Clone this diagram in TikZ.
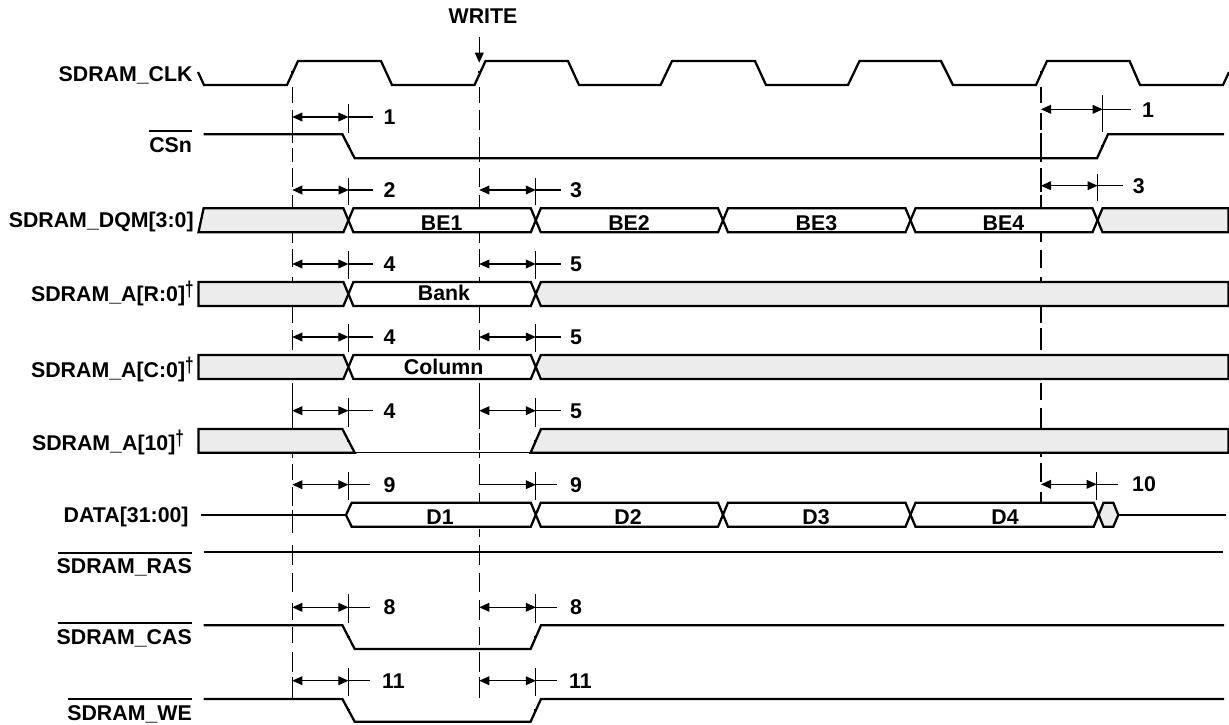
\documentclass[tikz,border=0pt]{standalone}
\usepackage{fontspec}
\usepackage{graphicx}
\setmainfont{Liberation Sans}[BoldFont={Liberation Sans Bold}]
\usetikzlibrary{arrows.meta}
\definecolor{graybg}{HTML}{ECECEC}
\newcommand{\timedim}[7]{%
  % name, x1, x2, y, tick top, tick bottom, ext end
  \draw[thinl,{Triangle[length=7.5pt,width=6.6pt]}-{Triangle[length=7.5pt,width=6.6pt]}] (#2,#4) coordinate (#1a) -- (#3,#4) coordinate (#1b);
  \draw[thinl] (#1b) -- (#7,#4);
  \draw[thinl] (#3,#5) -- (#3,#6);
}
\newcommand{\gridmark}[2]{\draw[thinl] (#1-1.5,#2) -- (#1+1.5,#2);}
% hexagonal bus cell: left crossing, right crossing, top, bottom, fill
\newcommand{\buscell}[5]{\draw[sig,fill=#5] (#1,#3/2+#4/2) -- (#1+5,#3) -- (#2-5,#3) -- (#2,#3/2+#4/2) -- (#2-5,#4) -- (#1+5,#4) -- cycle;}
\newcommand{\siglab}[4]{\node[lab] (#1) at (#2,#3) {#4};}
\newcommand{\mydagger}{\raisebox{3.6pt}{\scalebox{0.72}[1]{†}}}
\tikzset{
  sig/.style={line width=1.7pt,line join=miter,line cap=butt,draw=black},
  thinl/.style={line width=0.8pt,draw=black},
  grayf/.style={fill=graybg},
  txt/.style={font=\fontsize{16pt}{18pt}\selectfont\bfseries,inner sep=0pt,outer sep=0pt,text=black},
  lab/.style={txt,anchor=base east},
  mid/.style={txt,anchor=base},
  num/.style={txt,anchor=base},
  over/.style={line width=1.7pt,draw=black},
}
\begin{document}
\begin{tikzpicture}[x=0.75pt,y=-0.75pt]
\useasboundingbox (0,0) rectangle (1229,725);
% dashed reference lines, piece by piece
\foreach \a/\b in {87/103,110/143,148/162,168/187,195/208,233/243,249/267,277/282,306/323,330/350,383/400,400/429,453/458,464/480,487/506,510/533,545/565,573/592,603/620,627/643,652/672,677/699}
  \draw[thinl] (292.3,\a) -- (292.3,\b);
\foreach \a/\b in {87/103,110/130,137/162,168/187,195/208,233/243,249/267,277/282,306/323,330/350,383/400,400/429,433/450,452/458,493/502,529/537,545/565,573/592,600/620,627/645,652/672,677/698}
  \draw[thinl] (479.3,\a) -- (479.3,\b);
\foreach \a/\b in {87/103,113/130,133/162,168/192,195/208,233/242,250/268,277/282,307/323,328/350,383/400,408/428,453/457,463/482,492/502}
  \draw[thinl] (1041,\a) -- (1041,\b);
% clock
\draw[sig] (198,72) -- (204,85) -- (287,85) -- (298,61) -- (381,61) -- (392,85) -- (474.5,85) -- (485.5,61) -- (568,61) -- (579,85) -- (660.6,85) -- (672,61) -- (755,61) -- (766,85) -- (848,85) -- (859.5,61) -- (941,61) -- (953,85) -- (1036,85) -- (1047,61) -- (1129.6,61) -- (1140,85) -- (1223,85) -- (1229,72);
% CSn
\draw[sig] (203.6,134.3) -- (342.4,134.3) -- (354.7,158.3) -- (1097,158.3) -- (1108,134.3) -- (1224,134.3);
% DQM
\draw[sig,grayf] (198.5,232.3) -- (203.6,208.3) -- (343.4,208.3) -- (348.4,220.3) -- (343.4,232.3) -- cycle;
\buscell{348.4}{535.8}{208.3}{232.3}{white}
\buscell{535.8}{723}{208.3}{232.3}{white}
\buscell{723}{910.5}{208.3}{232.3}{white}
\buscell{910.5}{1097.5}{208.3}{232.3}{white}
\draw[sig,grayf] (1097.5,220.3) -- (1102.5,208.3) -- (1228.5,208.3) -- (1228.5,232.3) -- (1102.5,232.3) -- cycle;
% A[R:0]
\draw[sig,grayf] (198.5,282) -- (343.4,282) -- (348.4,294) -- (343.4,306) -- (198.5,306) -- cycle;
\buscell{348.4}{535.8}{282}{306}{white}
\draw[sig,grayf] (535.8,294) -- (540.8,282) -- (1228.5,282) -- (1228.5,306) -- (540.8,306) -- cycle;
% A[C:0]
\draw[sig,grayf] (198.5,355) -- (343.4,355) -- (348.4,367) -- (343.4,379) -- (198.5,379) -- cycle;
\buscell{348.4}{535.8}{355}{379}{white}
\draw[sig,grayf] (535.8,367) -- (540.8,355) -- (1228.5,355) -- (1228.5,379) -- (540.8,379) -- cycle;
% A[10]
\draw[line width=1pt] (354.7,452.7) -- (530.6,452.7);
\draw[sig,grayf] (198.5,429) -- (342.4,429) -- (354.7,452.7) -- (198.5,452.7) -- cycle;
\draw[sig,grayf] (530.6,452.7) -- (541,429) -- (1228.5,429) -- (1228.5,452.7) -- cycle;
% DATA
\draw[sig] (200.9,515) -- (346,515);
\draw[sig,fill=white] (346,515) -- (351.7,502.7) -- (530.8,502.7) -- (535.8,514.7) -- (530.8,526.7) -- (351.7,526.7) -- cycle;
\buscell{535.8}{723}{502.7}{526.7}{white}
\buscell{723}{910.5}{502.7}{526.7}{white}
\buscell{910.5}{1098.7}{502.7}{526.7}{white}
\draw[sig,grayf] (1098.7,514.7) -- (1103.5,502.7) -- (1113.3,502.7) -- (1118.3,515) -- (1113.3,526.7) -- (1103.5,526.7) -- cycle;
\draw[sig] (1118.3,515) -- (1225.7,515);
% RAS CAS WE
\draw[sig] (203.6,552) -- (1223,552);
\draw[sig] (203.6,625.3) -- (342.4,625.3) -- (354.7,649) -- (530.6,649) -- (541,625.3) -- (1224,625.3);
\draw[sig] (203.6,699) -- (342.4,699) -- (354.7,721.7) -- (530.6,721.7) -- (541,699) -- (1224,699);
% mid-edge marks
\gridmark{292.3}{72}\gridmark{479.3}{72}\gridmark{1041}{72}
\gridmark{348.4}{146}\gridmark{1102.7}{146}
\gridmark{348.4}{441}\gridmark{535.8}{441}
\gridmark{348.4}{637}\gridmark{535.8}{637}
\gridmark{348.4}{710}\gridmark{535.8}{710}
% WRITE arrow
\node[mid] (write) at (483,23.3) {WRITE};
\coordinate (wa) at (479.3,37);
\coordinate (wb) at (479.3,62.7);
\draw[thinl,-{Triangle[length=7.5pt,width=6.6pt]}] (wa) -- (wb);
% dimensions
\timedim{d1}{292.3}{348.4}{117}{104}{132.7}{373}
\timedim{d2}{1041}{1102.7}{109.3}{94.7}{131.7}{1131}
\timedim{d3}{292.3}{348.7}{190}{178}{205}{373}
\timedim{d4}{479.3}{535.8}{190}{178}{205}{560.7}
\timedim{d5}{1041}{1097.5}{185.7}{174}{201}{1122.5}
\timedim{d6}{292.3}{348.4}{264}{250.7}{279.3}{373}
\timedim{d7}{479.3}{535.8}{264}{250.7}{279.3}{560.7}
\timedim{d8}{292.3}{348.4}{337}{324}{352}{373}
\timedim{d9}{479.3}{535.8}{337}{324}{352}{560.7}
\timedim{d10}{292.3}{348.4}{410.7}{398}{426.7}{373}
\timedim{d11}{479.3}{535.8}{410.7}{398}{426.7}{560.7}
\timedim{d12}{292.3}{348.4}{484.7}{471.7}{500}{370}
\draw[thinl,-{Triangle[length=7.5pt,width=6.6pt]}] (479.3,464) -- (479.3,484.7) coordinate (d13a) -- (535.8,484.7) coordinate (d13b);
\draw[thinl] (d13b) -- (556.7,484.7);
\draw[thinl] (535.8,471.7) -- (535.8,500);
\timedim{d14}{1041}{1096.7}{484.3}{471.7}{500}{1118}
\timedim{d15}{292.3}{348.4}{607.3}{594}{623}{370}
\timedim{d16}{479.3}{535.8}{607.3}{594}{623}{556.7}
\timedim{d17}{292.3}{348.4}{680.7}{667.7}{696}{370}
\timedim{d18}{479.3}{535.8}{680.7}{667.7}{696}{556.7}
% dimension numbers
\node[num] (n1) at (389.5,124.5) {1};
\node[num] (n2) at (1148,117) {1};
\node[num] (n3) at (389.5,197.5) {2};
\node[num] (n4) at (576,197.5) {3};
\node[num] (n5) at (1138.7,193.2) {3};
\node[num] (n6) at (389.5,271.5) {4};
\node[num] (n7) at (576,271.5) {5};
\node[num] (n8) at (389.5,344.5) {4};
\node[num] (n9) at (576,344.5) {5};
\node[num] (n10) at (389.5,418.2) {4};
\node[num] (n11) at (576,418.2) {5};
\node[num] (n12) at (389.5,492.2) {9};
\node[num] (n13) at (576,492.2) {9};
\node[num] (n14) at (1144,491.8) {10};
\node[num] (n15) at (389.5,614.8) {8};
\node[num] (n16) at (576,614.8) {8};
\node[num] (n17) at (393.5,688.2) {11};
\node[num] (n18) at (580.5,688.2) {11};
% signal labels
\siglab{clk}{192.6}{81}{SDRAM\_CLK}
\siglab{cs}{192}{152.3}{CSn}
\draw[over] (149,131) -- (192,131);
\siglab{dqm}{193.7}{227.3}{SDRAM\_DQM[3:0]}
\siglab{ar}{193.7}{301.7}{SDRAM\_A[R:0]\mydagger}
\siglab{ac}{193.7}{377.3}{SDRAM\_A[C:0]\mydagger}
\siglab{a10}{184}{450}{SDRAM\_A[10]\mydagger}
\siglab{data}{188.6}{522.3}{DATA[31:00]}
\siglab{ras}{191.8}{573.3}{SDRAM\_RAS}
\draw[over] (57.7,553.3) -- (191.8,553.3);
\siglab{cas}{191.8}{644}{SDRAM\_CAS}
\draw[over] (57.7,623) -- (191.8,623);
\siglab{we}{191.8}{720}{SDRAM\_WE}
\draw[over] (68.4,699) -- (191.8,699);
% cell labels
\node[mid] (be1) at (441.7,230) {BE1};
\node[mid] (be2) at (629,230) {BE2};
\node[mid] (be3) at (816.4,230) {BE3};
\node[mid] (be4) at (1003.4,230) {BE4};
\node[mid] (bank) at (444,300.5) {Bank};
\node[mid] (col) at (443.6,374.5) {Column};
\node[mid] (dd1) at (440,524) {D1};
\node[mid] (dd2) at (628,524) {D2};
\node[mid] (dd3) at (816,524) {D3};
\node[mid] (dd4) at (1005,524) {D4};
\end{tikzpicture}
\end{document}
